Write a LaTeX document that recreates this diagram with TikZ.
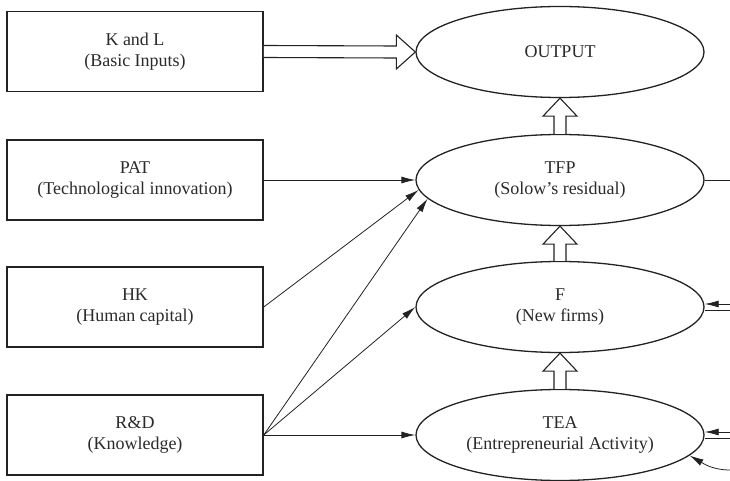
\documentclass[tikz,border=0pt]{standalone}
\usepackage{fontspec}
\setmainfont{Liberation Serif}
\usetikzlibrary{shapes.geometric,arrows.meta,calc}
\definecolor{ink}{HTML}{222222}
\definecolor{txt}{HTML}{2a2a2a}
\begin{document}
\begin{tikzpicture}[x=1pt,y=-1pt,
  every node/.style={font=\fontsize{18}{21}\selectfont, text=txt, align=center},
  inbox/.style={draw=ink, line width=1.5pt, rectangle, minimum width=256pt, minimum height=80pt, inner sep=0pt},
  oval/.style={draw=ink, line width=1.3pt, ellipse, minimum width=288pt, minimum height=91pt, inner sep=0pt},
  arr/.style={draw=ink, line width=0.8pt, -{Latex[length=14pt,width=7pt]}},
  plain/.style={draw=ink, line width=0.8pt},
  hollow/.style={draw=ink, line width=1.1pt, fill=white, line join=miter}
]
\useasboundingbox (0,0) rectangle (730,481);

\node[inbox] (kl)  at (135,51.5) {K and L\\(Basic Inputs)};
\node[inbox] (pat) at (135,180)  {PAT\\(Technological innovation)};
\node[inbox] (hk)  at (135,307)  {HK\\(Human capital)};
\node[inbox] (rd)  at (135,435)  {R\&D\\(Knowledge)};

\node[oval] (out) at (560,52)  {OUTPUT};
\node[oval] (tfp) at (560,180) {TFP\\(Solow’s residual)};
\node[oval] (f)   at (560,307) {F\\(New firms)};
\node[oval] (tea) at (560,435) {TEA\\(Entrepreneurial Activity)};

% hollow arrow K and L -> OUTPUT
\draw[hollow] ($(kl.east)+(0,-6)$) -- ($(out.west)+(-19,-6)$) -- ($(out.west)+(-19,-17)$)
  -- (out.west) -- ($(out.west)+(-19,17)$) -- ($(out.west)+(-19,6)$) -- ($(kl.east)+(0,6)$);

% hollow vertical arrows
\foreach \lo/\up in {tfp/out, f/tfp, tea/f}{
  \draw[hollow] ($(\lo.north)+(-6,0)$) -- ($(\up.south)+(-6,18)$) -- ($(\up.south)+(-17,18)$)
    -- (\up.south) -- ($(\up.south)+(17,18)$) -- ($(\up.south)+(6,18)$) -- ($(\lo.north)+(6,0)$);
}

% thin arrows
\draw[arr] (pat.east) -- (tfp.west);
\draw[arr] (hk.east) -- (tfp.184);
\draw[arr] (rd.east) -- (tfp.188);
\draw[arr] (rd.east) -- (f.west);
\draw[arr] (rd.east) -- (tea.west);

% right side connectors
\coordinate (tfpout) at (730,180);
\draw[plain] (tfp.east) -- (tfpout);
\coordinate (fin)  at (730,304);
\coordinate (fout) at (730,310);
\draw[arr] (fin) -- (fin -| f.east);
\draw[plain] (fout -| f.east) -- (fout);
\coordinate (tin)  at (730,432);
\coordinate (tout) at (730,438);
\draw[arr] (tin) -- (tin -| tea.east);
\draw[plain] (tout -| tea.east) -- (tout);
\coordinate (tcurve) at (730,470);
\draw[arr] (tcurve) to[out=180,in=-30] (tea.-9);
\end{tikzpicture}
\end{document}
